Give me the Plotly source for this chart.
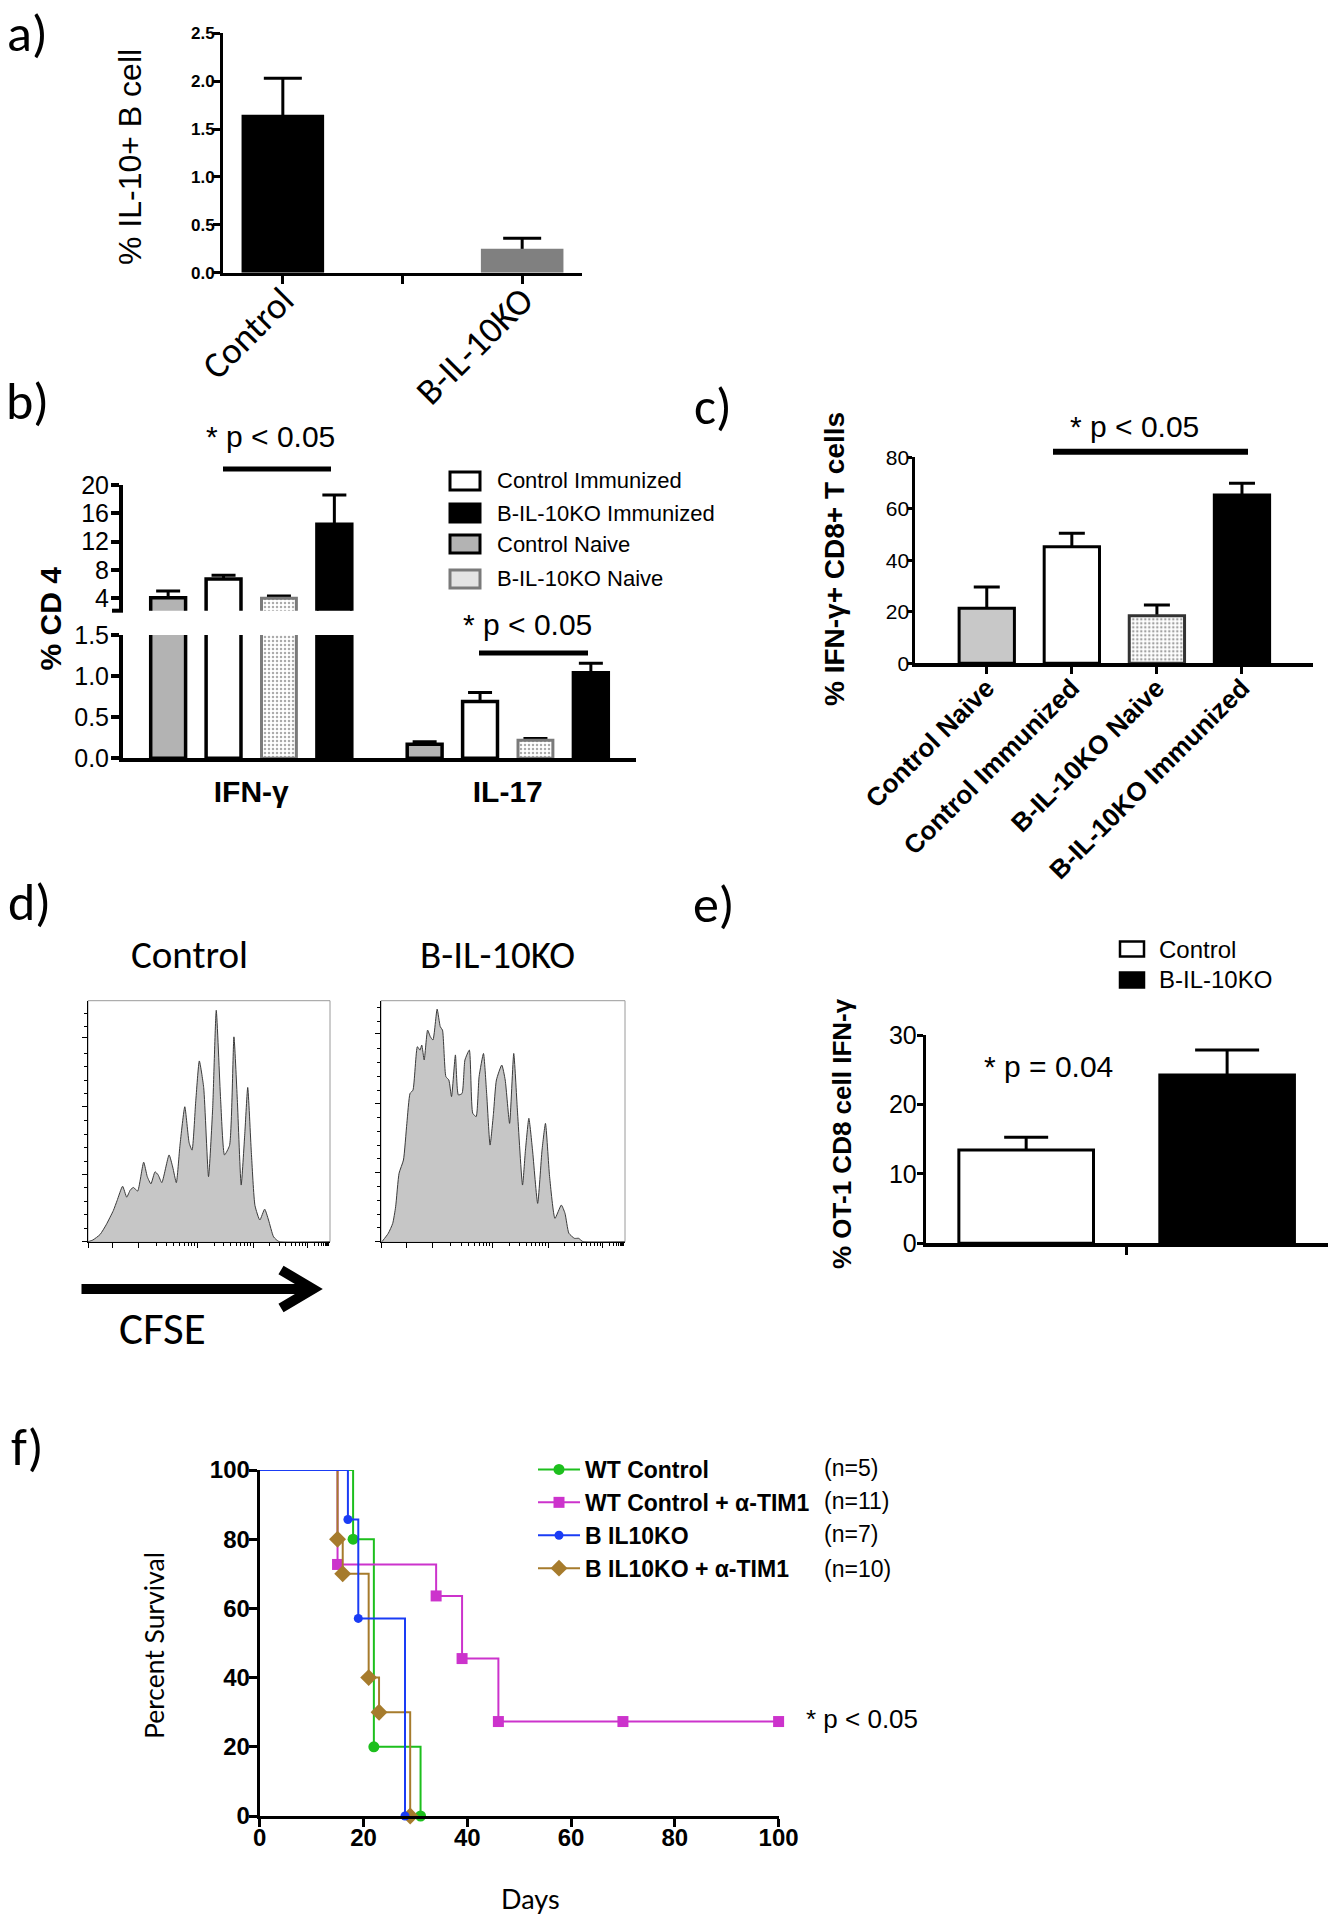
import math
import plotly.graph_objects as go

W, H = 1333, 1920


def X(p):
    return p / W


def Y(p):
    return 1 - p / H


ARIAL = "Arial, Liberation Sans, Arimo, sans-serif"
CALIBRI = "Calibri, Carlito, Lato, sans-serif"
GOTHIC = "Century Gothic, URW Gothic, Lato, sans-serif"

# ---------------------------------------------------------------- data
# (a) % IL-10+ B cells
a_labels = ["Control", "B-IL-10KO"]
a_means = [1.65, 0.25]
a_sem = [0.38, 0.11]

# (b) % CD4 producing cytokine
b_groups = ["IFN-γ", "IL-17"]
b_series = ["Control Naive", "Control Immunized", "B-IL-10KO Naive", "B-IL-10KO Immunized"]
b_control_naive = [4.08, 0.17]
b_control_naive_sem = [0.95, 0.03]
b_control_imm = [6.72, 0.69]
b_control_imm_sem = [0.52, 0.11]
b_ko_naive = [4.00, 0.22]
b_ko_naive_sem = [0.33, 0.02]
b_ko_imm = [14.45, 1.04]
b_ko_imm_sem = [4.15, 0.115]
b_upper_ticks = [4, 8, 12, 16, 20]
b_lower_ticks = [0.0, 0.5, 1.0, 1.5]
b_legend = ["Control Immunized", "B-IL-10KO Immunized", "Control Naive", "B-IL-10KO Naive"]

# (c) % IFN-g+ CD8+ T cells
c_labels = ["Control Naive", "Control Immunized", "B-IL-10KO Naive", "B-IL-10KO Immunized"]
c_means = [21.4, 45.3, 18.5, 65.4]
c_sem = [8.2, 5.2, 4.1, 4.5]
c_ticks = [0, 20, 40, 60, 80]

# (d) CFSE dilution histograms (CFSE channel %, % of mode)
d_ctrl_cfse = [0, 2, 5, 7.5, 10.5, 12, 14.3, 16, 17.5, 18.8, 20.5, 23, 24.5, 26, 27.7, 29, 30.5,
               33.5, 35, 36.5, 38, 40, 41.8, 43, 44.5, 46, 47.8, 49.8, 51.5, 53, 54.8, 56.4, 58.5,
               60.3, 61.7, 63.3, 64.8, 66, 67.5, 69, 71, 73, 74.6, 76.7, 79, 100]
d_ctrl_count = [0, 0.7, 3, 7, 13, 17, 23, 18.5, 21.5, 22.5, 21, 33, 27, 24, 29, 27.7, 24.5,
                36, 31, 24.5, 40, 56, 41, 38, 58, 75, 64, 27, 55, 96, 59, 36, 40,
                85, 59, 23.5, 45, 64, 37, 15, 9, 13.5, 9, 2, 0, 0]
d_ko_cfse = [0.4, 3.0, 4.8, 6.0, 7.4, 9.2, 10.6, 11.9, 13.1, 14.9, 16.0, 16.7, 17.7, 19.1, 20.2,
             21.3, 23.0, 24.3, 25.2, 26.6, 27.8, 28.9, 30.5, 31.7, 33.2, 34.4, 36.2, 37.6, 39.0,
             40.2, 42.0, 43.3, 44.7, 46.1, 47.3, 49.5, 50.9, 52.7, 54.4, 55.9, 58.0, 59.2, 60.6,
             62.1, 64.2, 66.0, 67.4, 69.1, 71.3, 73.9, 75.4, 77.0, 79.3, 81.0, 82.8, 100]
d_ko_count = [0, 3.5, 7.6, 14.5, 28.4, 33.9, 49.1, 61.5, 62.9, 80.9, 79.5, 81.6, 75.4, 87.8, 85.1,
              83.7, 96.5, 89.2, 87.8, 68.5, 67.1, 60.2, 77.5, 60.9, 61.5, 75.4, 79.5, 53.3, 51.9,
              68.5, 78.1, 61.5, 40.1, 53.3, 67.1, 73.3, 67.1, 49.1, 78.1, 54.6, 23.5, 38.0, 51.2,
              38.0, 15.9, 38.0, 49.1, 27.0, 9.7, 15.2, 11.8, 3.5, 1.4, 1.4, 0, 0]

# (e) % OT-1 CD8 IFN-g
e_labels = ["Control", "B-IL-10KO"]
e_means = [13.45, 24.25]
e_sem = [1.82, 3.6]
e_ticks = [0, 10, 20, 30]

# (f) survival
f_names = ["WT Control", "WT Control + α-TIM1", "B IL10KO", "B IL10KO + α-TIM1"]
f_n = ["(n=5)", "(n=11)", "(n=7)", "(n=10)"]
f_wt_days = [0, 18, 22, 31]
f_wt_surv = [100, 80, 20, 0]
f_wt_tim_days = [0, 15, 34, 39, 46, 70, 100]
f_wt_tim_surv = [100, 72.7, 63.6, 45.5, 27.3, 27.3, 27.3]
f_ko_days = [0, 17, 19, 28]
f_ko_surv = [100, 85.7, 57.1, 0]
f_ko_tim_days = [0, 15, 16, 21, 23, 29]
f_ko_tim_surv = [100, 80, 70, 40, 30, 0]
f_ticks = [0, 20, 40, 60, 80, 100]

# ---------------------------------------------------------------- figure
fig = go.Figure()
annotations = []
shapes = []


def text(x, y, s, size, family=ARIAL, weight="normal", angle=0, xanchor="center", yanchor="middle"):
    annotations.append(dict(x=X(x), y=Y(y), xref="paper", yref="paper", text=s, showarrow=False,
                            font=dict(family=family, size=size, color="black", weight=weight),
                            textangle=angle, xanchor=xanchor, yanchor=yanchor))


def hline(x0, x1, y, w, color="black"):
    shapes.append(dict(type="line", xref="paper", yref="paper", x0=X(x0), x1=X(x1), y0=Y(y), y1=Y(y),
                       line=dict(color=color, width=w)))


def box(x0, x1, y0, y1, fill, line, w):
    shapes.append(dict(type="rect", xref="paper", yref="paper", x0=X(x0), x1=X(x1), y0=Y(y1), y1=Y(y0),
                       fillcolor=fill, line=dict(color=line, width=w)))


def add_bars(x, y, err, xa, ya, width, color, lcolor, lwidth, cap, pattern=None, ethick=3):
    # error bars (drawn first, lower half hidden by the bar drawn over it)
    fig.add_trace(go.Bar(x=x, y=y, width=width, xaxis=xa, yaxis=ya,
                         marker=dict(color="rgba(0,0,0,0)", line=dict(width=0)),
                         error_y=dict(type="data", array=err, color="black", thickness=ethick, width=cap),
                         showlegend=False, hoverinfo="skip"))
    marker = dict(color=color, line=dict(color=lcolor, width=lwidth))
    if pattern is not None:
        marker["pattern"] = pattern
    fig.add_trace(go.Bar(x=x, y=y, width=width, xaxis=xa, yaxis=ya, marker=marker, showlegend=False))


def ax(**kw):
    d = dict(showgrid=False, zeroline=False, showline=True, linecolor="black", ticks="outside",
             tickcolor="black", fixedrange=True, automargin=False)
    d.update(kw)
    return d


# ---- (a)
a_slots = [0, 2]
add_bars(a_slots, a_means, a_sem, "x", "y", 0.69, ["black", "#808080"], ["black", "#808080"], 0, 19)

# ---- (b)
b_offsets = [-0.324, -0.108, 0.108, 0.324]
b_vals = [b_control_naive, b_control_imm, b_ko_naive, b_ko_imm]
b_errs = [b_control_naive_sem, b_control_imm_sem, b_ko_naive_sem, b_ko_imm_sem]
dots = dict(shape=".", fgcolor="#555555", bgcolor="white", size=4, solidity=0.3, fillmode="overlay")
b_styles = [
    dict(color="#b3b3b3", lcolor="black", lwidth=3.5, pattern=None),
    dict(color="white", lcolor="black", lwidth=3.5, pattern=None),
    dict(color="white", lcolor="#7a7a7a", lwidth=3, pattern=dots),
    dict(color="black", lcolor="black", lwidth=3.5, pattern=None),
]
for i, st in enumerate(b_styles):
    xs = [g + b_offsets[i] for g in range(len(b_groups))]
    for ya in ("y2", "y3"):
        add_bars(xs, b_vals[i], b_errs[i], "x2", ya, 0.136, st["color"], st["lcolor"], st["lwidth"], 12,
                 pattern=st["pattern"])

# ---- (c)
c_pattern = dict(shape=["", "", ".", ""], fgcolor="#555555", bgcolor="white", size=4, solidity=0.3,
                 fillmode="overlay")
add_bars(list(range(len(c_labels))), c_means, c_sem, "x3", "y4", 0.65,
         ["#c8c8c8", "white", "white", "black"], ["black", "black", "#333333", "black"], 3, 13,
         pattern=c_pattern)

# ---- (d)
for xs, ys, xa, ya in ((d_ctrl_cfse, d_ctrl_count, "x4", "y5"), (d_ko_cfse, d_ko_count, "x5", "y6")):
    fig.add_trace(go.Scatter(x=xs, y=ys, xaxis=xa, yaxis=ya, mode="lines", fill="tozeroy",
                             fillcolor="#c6c6c6", line=dict(color="#3a3a3a", width=1, shape="spline",
                                                            smoothing=0.5),
                             showlegend=False, hoverinfo="skip"))

# ---- (e)
e_colors = ["white", "black"]
e_caps = [22, 32]
for i in range(len(e_labels)):
    add_bars([i], [e_means[i]], [e_sem[i]], "x6", "y7", 0.67, e_colors[i], "black", 3, e_caps[i])

# ---- (f)
f_days = [f_wt_days, f_wt_tim_days, f_ko_tim_days, f_ko_days]
f_surv = [f_wt_surv, f_wt_tim_surv, f_ko_tim_surv, f_ko_surv]
f_idx = [0, 1, 3, 2]  # drawing order
f_colors = ["#1dbf1d", "#cc33cc", "#1a3cf5", "#a67b2c"]
f_symbols = ["circle", "square", "circle", "diamond"]
f_sizes = [11, 11, 9, 13]
# legend entries
for k in range(4):
    fig.add_trace(go.Scatter(x=[None], y=[None], xaxis="x7", yaxis="y8", mode="lines+markers",
                             name="<b>%s</b>" % f_names[k], legendgroup="g%d" % k,
                             line=dict(color=f_colors[k], width=2),
                             marker=dict(symbol=f_symbols[k], size=f_sizes[k], color=f_colors[k])))
for j, k in enumerate(f_idx):
    d, s = f_days[j], f_surv[j]
    fig.add_trace(go.Scatter(x=d, y=s, xaxis="x7", yaxis="y8", mode="lines",
                             line=dict(color=f_colors[k], width=2, shape="hv"),
                             showlegend=False, hoverinfo="skip"))
    fig.add_trace(go.Scatter(x=d[1:], y=s[1:], xaxis="x7", yaxis="y8", mode="markers",
                             marker=dict(symbol=f_symbols[k], size=f_sizes[k], color=f_colors[k]),
                             cliponaxis=False, showlegend=False, hoverinfo="skip"))

# ---------------------------------------------------------------- axes
lay = dict(
    template="none",
    width=W, height=H, autosize=False, margin=dict(l=0, r=0, t=0, b=0, pad=0, autoexpand=False),
    paper_bgcolor="white", plot_bgcolor="rgba(0,0,0,0)", barmode="overlay",
    font=dict(family=ARIAL, color="black"),
    # (a)
    xaxis=ax(domain=[X(223), X(582)], range=[-0.5, 2.5], anchor="y", tickvals=[0, 1, 2],
             ticktext=[a_labels[0], "", a_labels[1]], tickangle=-45,
             tickfont=dict(family=CALIBRI, size=37), linewidth=3, ticklen=8, tickwidth=3,
             ticklabelstandoff=-20),
    yaxis=ax(domain=[Y(272.7), Y(33.3)], range=[0, 2.5], anchor="x", tickvals=[0, 0.5, 1, 1.5, 2, 2.5],
             ticktext=["0.0", "0.5", "1.0", "1.5", "2.0", "2.5"],
             tickfont=dict(family=ARIAL, size=17, weight="bold"), linewidth=3, ticklen=7, tickwidth=2.5,
             ticklabelstandoff=-5),
    # (b)
    xaxis2=ax(domain=[X(123), X(636)], range=[-0.5, 1.5], anchor="y3", tickvals=[0, 1], ticktext=b_groups,
              tickfont=dict(family=ARIAL, size=30, weight="bold"), ticks="", linewidth=4,
              ticklabelstandoff=4),
    yaxis2=ax(domain=[Y(610.7), Y(485)], range=[2.25, 20], anchor="x2", tickvals=b_upper_ticks,
              tickfont=dict(size=25), linewidth=4, ticklen=8, tickwidth=4, ticklabelstandoff=-3),
    yaxis3=ax(domain=[Y(758.3), Y(635)], range=[0, 1.5], anchor="x2", tickvals=b_lower_ticks,
              ticktext=["0.0", "0.5", "1.0", "1.5"], tickfont=dict(size=25), linewidth=4, ticklen=8,
              tickwidth=4, ticklabelstandoff=-3),
    # (c)
    xaxis3=ax(domain=[X(915.3), X(1313)], range=[-0.84, 3.835], anchor="y4", tickvals=[0, 1, 2, 3],
              ticktext=c_labels, tickangle=-45, tickfont=dict(size=26, weight="bold"), linewidth=4,
              ticklen=7, tickwidth=3, ticklabelstandoff=-12),
    yaxis4=ax(domain=[Y(663.3), Y(457.3)], range=[0, 80], anchor="x3", tickvals=c_ticks,
              tickfont=dict(size=21), linewidth=3, ticklen=5, tickwidth=3, ticklabelstandoff=-6),
    # (e)
    xaxis6=ax(domain=[X(925.7), X(1327.6)], range=[-0.5, 1.5], anchor="y7", tickvals=[0.5], ticktext=[""],
              linewidth=4, ticklen=8, tickwidth=3),
    yaxis7=ax(domain=[Y(1243.3), Y(1035)], range=[0, 30], anchor="x6", tickvals=e_ticks,
              tickfont=dict(size=25), linewidth=3, ticklen=6, tickwidth=3, ticklabelstandoff=-5),
    # (f)
    xaxis7=ax(domain=[X(259.7), X(778.6)], range=[0, 100], anchor="y8", tickvals=f_ticks,
              tickfont=dict(size=24, weight="bold"), linewidth=3, ticklen=8, tickwidth=3,
              ticklabelstandoff=-10),
    yaxis8=ax(domain=[Y(1816), Y(1470)], range=[0, 100], anchor="x7", tickvals=f_ticks,
              tickfont=dict(size=24, weight="bold"), linewidth=3, ticklen=8, tickwidth=3,
              ticklabelstandoff=-6),
    legend=dict(x=X(533), y=Y(1448), xanchor="left", yanchor="top",
                font=dict(family=ARIAL, size=23, color="black"), bgcolor="rgba(0,0,0,0)",
                tracegroupgap=1, itemwidth=42, traceorder="normal"),
    showlegend=True,
)


# (d) histogram axes with log-decade ticks
def decade_minors(majors):
    out = []
    for lo, hi in zip(majors[2:-1], majors[3:]):
        for k in range(2, 10):
            out.append(lo + (hi - lo) * math.log10(k))
    return out


d_frames = [("xaxis4", "yaxis5", "x4", "y5", 88, 330, [0.4, 10.2, 20.9, 45.1, 68.3, 90.7],
             [0, 27.9, 56.3, 84.6]),
            ("xaxis5", "yaxis6", "x5", "y6", 381, 625, [0.4, 10.6, 21.3, 45.6, 68.6, 90.8],
             [0, 28.6, 57.4, 86.2])]
for xk, yk, xid, yid, x0, x1, xmaj, ymaj in d_frames:
    step = ymaj[1] / 5
    yminor = [step * k for k in range(1, 18) if k % 5 and step * k < 100]
    lay[xk] = ax(domain=[X(x0), X(x1)], range=[0, 100], anchor=yid, tickvals=xmaj, showticklabels=False,
                 linewidth=1, ticklen=5, tickwidth=1,
                 minor=dict(tickvals=decade_minors(xmaj + [100]), ticklen=3, ticks="outside",
                            tickcolor="black", tickwidth=1))
    lay[yk] = ax(domain=[Y(1241.7), Y(1000.7)], range=[0, 100], anchor=xid, tickvals=ymaj,
                 showticklabels=False, linewidth=1, ticklen=5, tickwidth=1,
                 minor=dict(tickvals=yminor, ticklen=3, ticks="outside", tickcolor="black", tickwidth=1))
    shapes.append(dict(type="rect", xref=xid + " domain", yref=yid + " domain", x0=0, x1=1, y0=0, y1=1,
                       line=dict(color="#9a9a9a", width=1), layer="below"))

# ---------------------------------------------------------------- text & decorations
# panel letters
for lab, (lx, ly) in zip("abcdef", [(27, 33), (27, 401), (713, 406), (29, 902), (714, 904), (27, 1447)]):
    text(lx, ly, lab + ")", 52, family=CALIBRI)

# (a)
text(130, 157, "% IL-10+ B cell", 32, angle=-90)

# (b)
text(49.5, 619, "% CD 4", 30, weight="bold", angle=-90)
text(270, 437, "* p < 0.05", 30)
hline(223, 331, 469, 5)
text(527, 625, "* p < 0.05", 30)
hline(479, 588, 653, 5)
hline(112, 123, 610.7, 4)  # axis break mark
b_leg_rows = [481, 513, 544, 579]
b_leg_fill = ["white", "black", "#b3b3b3", "#e4e4e4"]
b_leg_line = ["black", "black", "black", "#7a7a7a"]
for r, f, l, name in zip(b_leg_rows, b_leg_fill, b_leg_line, b_legend):
    box(450, 480, r - 9, r + 9, f, l, 3)
    text(495, r, name, 22, xanchor="left")

# (c)
text(834, 559, "% IFN-γ+ CD8+ T cells", 28, weight="bold", angle=-90)
text(1134, 426, "* p < 0.05", 30)
hline(1053, 1248, 451.7, 6)

# (d)
text(189, 955, "Control", 39, family=CALIBRI)
text(497, 955, "B-IL-10KO", 39, family=CALIBRI)
hline(81.5, 310, 1289, 10)
shapes.append(dict(type="path", xref="paper", yref="paper",
                   path="M%f,%f L%f,%f L%f,%f" % (X(281), Y(1270), X(313), Y(1289), X(281), Y(1308)),
                   line=dict(color="black", width=10)))
text(162, 1328, "CFSE", 45, family=CALIBRI)

# (e)
text(842, 1134, "% OT-1 CD8 cell IFN-γ", 26, weight="bold", angle=-90)
text(1048, 1066, "* p = 0.04", 30)
for r, f, name in zip([949, 980], ["white", "black"], e_labels):
    box(1120, 1144, r - 7.5, r + 7.5, f, "black", 2.5)
    text(1157, r, name, 24, xanchor="left")

# (f)
text(154, 1646, "Percent Survival", 26.5, family=GOTHIC, angle=-90)
text(530, 1898, "Days", 27, family=GOTHIC)
text(804, 1719, "* p < 0.05", 26, xanchor="left")
for r, n in zip([1468, 1501, 1534, 1569], f_n):
    text(822, r, n, 23, xanchor="left")

lay["annotations"] = annotations
lay["shapes"] = shapes
fig.update_layout(**lay)

fig.write_html("out.html", config={"displayModeBar": False},
               post_script="document.body.style.margin='0';")
